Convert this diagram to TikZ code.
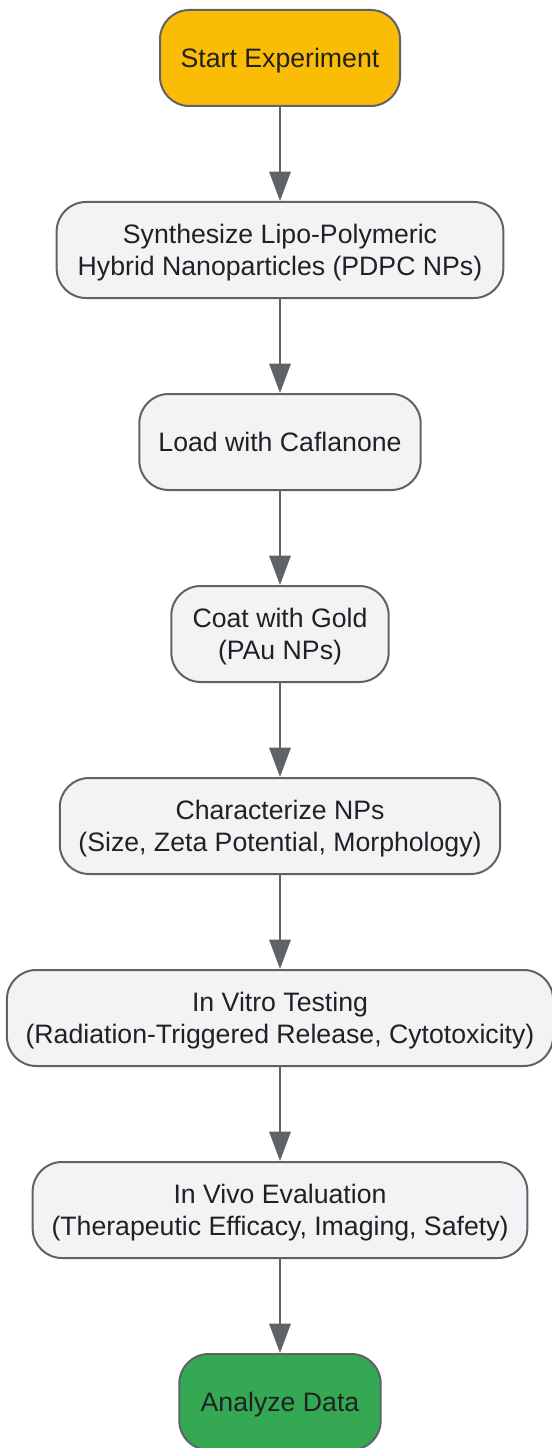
\documentclass[tikz,border=0pt]{standalone}
\usepackage{fontspec}
\setmainfont{Liberation Sans}
\usetikzlibrary{positioning,arrows.meta}
\definecolor{startfill}{HTML}{FBBC05}
\definecolor{endfill}{HTML}{34A853}
\definecolor{boxfill}{HTML}{F1F3F4}
\definecolor{boxline}{HTML}{5F6368}
\definecolor{boxtext}{HTML}{202124}
\begin{document}
\begin{tikzpicture}[x=0.75pt,y=-0.75pt]
\tikzstyle{stepbox}=[rectangle, rounded corners=22pt, draw=boxline, line width=1.5pt, fill=boxfill, text=boxtext, align=center, minimum height=72pt, inner xsep=14pt, text depth=0pt, font=\fontsize{20}{24}\selectfont]
\tikzstyle{startbox}=[stepbox, fill=startfill]
\tikzstyle{endbox}=[stepbox, fill=endfill]
\tikzstyle{flow}=[draw=boxline, line width=1.5pt, -{Triangle[length=22pt,width=16pt]}]
\useasboundingbox (0,0) rectangle (551,1448);

\node[startbox, minimum width=180pt] (start) at (280,58) {Start Experiment};
\node[stepbox, minimum width=335pt] (synth) at (280,250) {Synthesize Lipo-Polymeric\\Hybrid Nanoparticles (PDPC NPs)};
\node[stepbox, minimum width=211pt] (load) at (280,442) {Load with Caflanone};
\node[stepbox, minimum width=163pt] (coat) at (280,634) {Coat with Gold\\(PAu NPs)};
\node[stepbox, minimum width=329pt] (char) at (280,826) {Characterize NPs\\(Size, Zeta Potential, Morphology)};
\node[stepbox, minimum width=406pt] (vitro) at (280,1018) {In Vitro Testing\\(Radiation-Triggered Release, Cytotoxicity)};
\node[stepbox, minimum width=371pt] (vivo) at (280,1210) {In Vivo Evaluation\\(Therapeutic Efficacy, Imaging, Safety)};
\node[endbox, minimum width=151pt] (analyze) at (280,1402) {Analyze Data};

\draw[flow] (start) -- (synth);
\draw[flow] (synth) -- (load);
\draw[flow] (load) -- (coat);
\draw[flow] (coat) -- (char);
\draw[flow] (char) -- (vitro);
\draw[flow] (vitro) -- (vivo);
\draw[flow] (vivo) -- (analyze);
\end{tikzpicture}
\end{document}
